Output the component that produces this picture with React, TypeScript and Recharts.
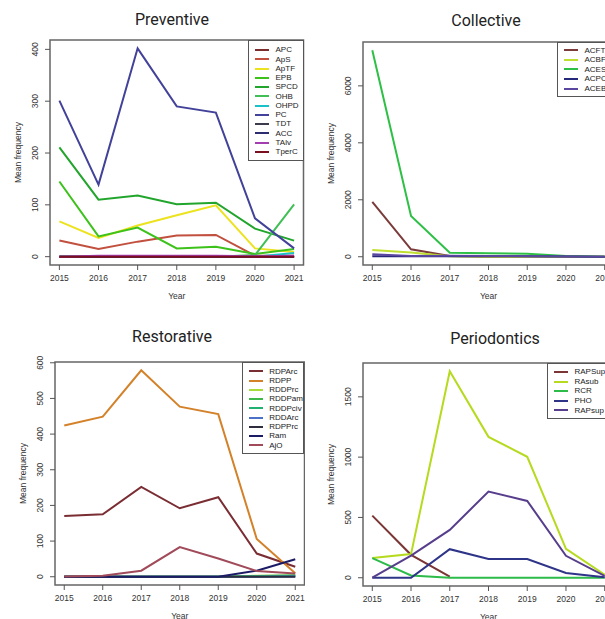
import React from "react";
import { LineChart, Line, XAxis, YAxis, ReferenceArea, Legend } from "recharts";

const YEARS = [2015, 2016, 2017, 2018, 2019, 2020, 2021];

// Preventive
const APC = [0, 0, 0, 0, 0, 0, 0];
const ApS = [31, 15, 29, 41, 42, 2, 2];
const ApTF = [68, 36, 60, 80, 99, 16, 9];
const EPB = [145, 39, 56, 16, 19, 5, 15];
const SPCD = [211, 110, 118, 101, 104, 54, 31];
const OHB = [0, 0, 0, 0, 0, 3, 101];
const OHPD = [0, 0, 0, 0, 0, 0, 7];
const PC = [301, 139, 402, 290, 278, 74, 16];
const TDT = [0, 0, 0, 0, 0, 0, 0];
const ACC = [0, 0, 0, 0, 0, 0, 0];
const TAlv = [0, 2, 2, 2, 2, 1, 2];
const TperC = [0, 0, 0, 0, 0, 0, 0];

// Collective
const ACFT = [1925, 260, 25, 0, 0, 0, 0];
const ACBF = [240, 145, 20, 0, 0, 0, 0];
const ACES = [7250, 1430, 140, 125, 105, 25, 0];
const ACPC = [20, 20, 20, 20, 15, 5, 0];
const ACEB = [90, 25, 35, 30, 20, 5, 0];

// Restorative
const RDPArc = [170, 175, 252, 192, 223, 65, 28];
const RDPP = [424, 449, 579, 477, 456, 106, 10];
const RDDPrc = [0, 0, 0, 0, 0, 3, 3];
const RDDPam = [0, 0, 0, 0, 0, 2, 4];
const RDDPciv = [0, 0, 0, 0, 0, 1, 2];
const RDDArc = [0, 0, 0, 0, 0, 0, 1];
const RDPPrc = [0, 0, 0, 0, 0, 0, 0];
const Ram = [0, 0, 0, 0, 0, 17, 49];
const AjO = [1, 3, 17, 83, 51, 16, 9];

// Periodontics
const RAPSup = [515, 190, 10, null, null, null, null];
const RAsub = [163, 196, 1712, 1168, 1003, 240, 25];
const RCR = [163, 19, 0, 0, 0, 0, 0];
const PHO = [0, 0, 237, 155, 155, 39, 5];
const RAPsup = [0, 184, 397, 714, 637, 182, 15];

const FONT = '"Liberation Sans", Arial, sans-serif';
const X_DOMAIN = [2015 - 0.24, 2021 + 0.24];

type PanelCfg = {
  title: string;
  names: string[];
  values: (number | null)[][];
  colors: string[];
  yTicks: number[];
  left: number;
  top: number;
  width: number;
  height: number;
  chartW: number;
  mTop: number;
  mRight: number;
  yAxisW: number;
  xAxisH: number;
  titleX: number;
  titleY: number;
  legend: { x: number; y: number; w: number; h: number; row: number; pad: number };
};

const panels: PanelCfg[] = [
  {
    title: "Preventive",
    names: ["APC", "ApS", "ApTF", "EPB", "SPCD", "OHB", "OHPD", "PC", "TDT", "ACC", "TAlv", "TperC"],
    values: [APC, ApS, ApTF, EPB, SPCD, OHB, OHPD, PC, TDT, ACC, TAlv, TperC],
    colors: ["#7b2d2d", "#c2503f", "#ece31e", "#3cc21a", "#22a52c", "#3fbf55", "#19c2c8", "#42429a", "#3c3c4c", "#2c2c70", "#a23eb0", "#7d0e1e"],
    yTicks: [0, 100, 200, 300, 400],
    left: 0, top: 0, width: 305, height: 310, chartW: 305,
    mTop: 40, mRight: 1.5, yAxisW: 50, xAxisH: 45,
    titleX: 172, titleY: 20,
    legend: { x: 248, y: 40, w: 55.5, h: 121, row: 9.25, pad: 5.4 },
  },
  {
    title: "Collective",
    names: ["ACFT", "ACBF", "ACES", "ACPC", "ACEB"],
    values: [ACFT, ACBF, ACES, ACPC, ACEB],
    colors: ["#7b3b3b", "#bfe030", "#2ec046", "#26287a", "#5b46a0"],
    yTicks: [0, 2000, 4000, 6000],
    left: 305, top: 0, width: 300, height: 310, chartW: 312,
    mTop: 42, mRight: 3, yAxisW: 58, xAxisH: 45,
    titleX: 181, titleY: 21,
    legend: { x: 252, y: 42, w: 57, h: 55, row: 9.6, pad: 3.5 },
  },
  {
    title: "Restorative",
    names: ["RDPArc", "RDPP", "RDDPrc", "RDDPam", "RDDPciv", "RDDArc", "RDPPrc", "Ram", "AjO"],
    values: [RDPArc, RDPP, RDDPrc, RDDPam, RDDPciv, RDDArc, RDPPrc, Ram, AjO],
    colors: ["#7a2e34", "#d4822a", "#a8dc3a", "#3fb84a", "#22b070", "#4a70c8", "#2e2e3e", "#1c1c66", "#a04a5a"],
    yTicks: [0, 100, 200, 300, 400, 500, 600],
    left: 0, top: 310, width: 305, height: 309, chartW: 306,
    mTop: 52, mRight: 1.5, yAxisW: 55, xAxisH: 34,
    titleX: 172, titleY: 27,
    legend: { x: 241.7, y: 52, w: 62.8, h: 92.3, row: 9.25, pad: 4.7 },
  },
  {
    title: "Periodontics",
    names: ["RAPSup", "RAsub", "RCR", "PHO", "RAPsup"],
    values: [RAPSup, RAsub, RCR, PHO, RAPsup],
    colors: ["#7b3535", "#b5da1e", "#2dbb4a", "#2e3488", "#573e8c"],
    yTicks: [0, 500, 1000, 1500],
    left: 305, top: 310, width: 300, height: 309, chartW: 312,
    mTop: 53, mRight: 3, yAxisW: 58, xAxisH: 33,
    titleX: 190, titleY: 29,
    legend: { x: 242, y: 53, w: 67, h: 55.6, row: 9.6, pad: 4.2 },
  },
];

function XTick(props: any) {
  const { x, y, payload } = props;
  return (
    <text x={x} y={y} dy={8} textAnchor="middle" fontSize={8.5} fontFamily={FONT} fill="#333">
      {payload.value}
    </text>
  );
}

function YTick(props: any) {
  const { x, y, payload } = props;
  return (
    <text x={x} y={y} transform={`rotate(-90, ${x}, ${y})`} textAnchor="middle" fontSize={8.5} fontFamily={FONT} fill="#333">
      {payload.value}
    </text>
  );
}

const xLabel = (props: any) => {
  const vb = props.viewBox;
  return (
    <text x={vb.x + vb.width / 2} y={vb.y + 31} textAnchor="middle" dominantBaseline="central" fontSize={8.5} fontFamily={FONT} fill="#333">
      Year
    </text>
  );
};

const yLabel = (props: any) => {
  const vb = props.viewBox;
  const x = vb.x + vb.width - 32.5;
  const y = vb.y + vb.height / 2;
  return (
    <text x={x} y={y} transform={`rotate(-90, ${x}, ${y})`} textAnchor="middle" dominantBaseline="central" fontSize={8.5} fontFamily={FONT} fill="#333">
      Mean frequency
    </text>
  );
};

function LegendBox({ p }: { p: PanelCfg }) {
  const l = p.legend;
  return (
    <div
      style={{
        width: l.w,
        height: l.h,
        border: "1px solid #555",
        boxSizing: "border-box",
        background: "#fff",
        paddingTop: l.pad - 1,
      }}
    >
      {p.names.map((n, i) => (
        <div key={n} style={{ height: l.row, position: "relative", whiteSpace: "nowrap" }}>
          <span style={{ position: "absolute", left: 6, top: l.row / 2 - 1, width: 14, height: 2, background: p.colors[i] }} />
          <span style={{ position: "absolute", left: 26.5, top: 0, lineHeight: `${l.row}px`, fontSize: 8, fontFamily: FONT, color: "#222" }}>
            {n}
          </span>
        </div>
      ))}
    </div>
  );
}

function Panel({ p }: { p: PanelCfg }) {
  const data = YEARS.map((year, i) => {
    const row: Record<string, number | null> = { year };
    p.names.forEach((n, j) => (row[n] = p.values[j][i]));
    return row;
  });
  const all = p.values.flat().filter((v) => v != null) as number[];
  const lo = Math.min(...all);
  const hi = Math.max(...all);
  const pad = 0.04 * (hi - lo);
  const yDomain = [lo - pad, hi + pad];

  return (
    <div style={{ position: "absolute", left: p.left, top: p.top, width: p.width, height: p.height, overflow: "hidden" }}>
      <div
        style={{
          position: "absolute",
          left: p.titleX - 100,
          width: 200,
          top: p.titleY - 11,
          lineHeight: "22px",
          textAlign: "center",
          fontFamily: "Roboto, sans-serif",
          fontSize: 16,
          color: "#222",
        }}
      >
        {p.title}
      </div>
      <LineChart
        width={p.chartW}
        height={p.height}
        data={data}
        margin={{ top: p.mTop, right: p.mRight, bottom: 0, left: 0 }}
        style={{ position: "absolute", left: 0, top: 0 }}
      >
        <XAxis
          dataKey="year"
          type="number"
          domain={X_DOMAIN}
          ticks={YEARS}
          interval={0}
          allowDataOverflow
          axisLine={false}
          tickLine={{ stroke: "#555" }}
          tickSize={5}
          tickMargin={3}
          height={p.xAxisH}
          tick={XTick}
          label={xLabel}
        />
        <YAxis
          type="number"
          domain={yDomain}
          ticks={p.yTicks}
          interval={0}
          allowDataOverflow
          width={p.yAxisW}
          axisLine={false}
          tickLine={{ stroke: "#555" }}
          tickSize={5}
          tickMargin={7}
          tick={YTick}
          label={yLabel}
        />
        <ReferenceArea
          x1={X_DOMAIN[0]}
          x2={X_DOMAIN[1]}
          y1={yDomain[0]}
          y2={yDomain[1]}
          fill="none"
          stroke="#666"
          strokeWidth={1.5}
          ifOverflow="visible"
        />
        {p.names.map((n, i) => (
          <Line
            key={n}
            dataKey={n}
            type="linear"
            stroke={p.colors[i]}
            strokeWidth={2}
            dot={false}
            activeDot={false}
            isAnimationActive={false}
          />
        ))}
        <Legend
          layout="vertical"
          align="center"
          verticalAlign="middle"
          wrapperStyle={{ left: p.legend.x, top: p.legend.y, width: p.legend.w, height: p.legend.h }}
          content={() => <LegendBox p={p} />}
        />
      </LineChart>
    </div>
  );
}

export default function App() {
  return (
    <div style={{ position: "absolute", left: 0, top: 0, width: 605, height: 619, overflow: "hidden", background: "#fff" }}>
      {panels.map((p) => (
        <Panel key={p.title} p={p} />
      ))}
    </div>
  );
}
